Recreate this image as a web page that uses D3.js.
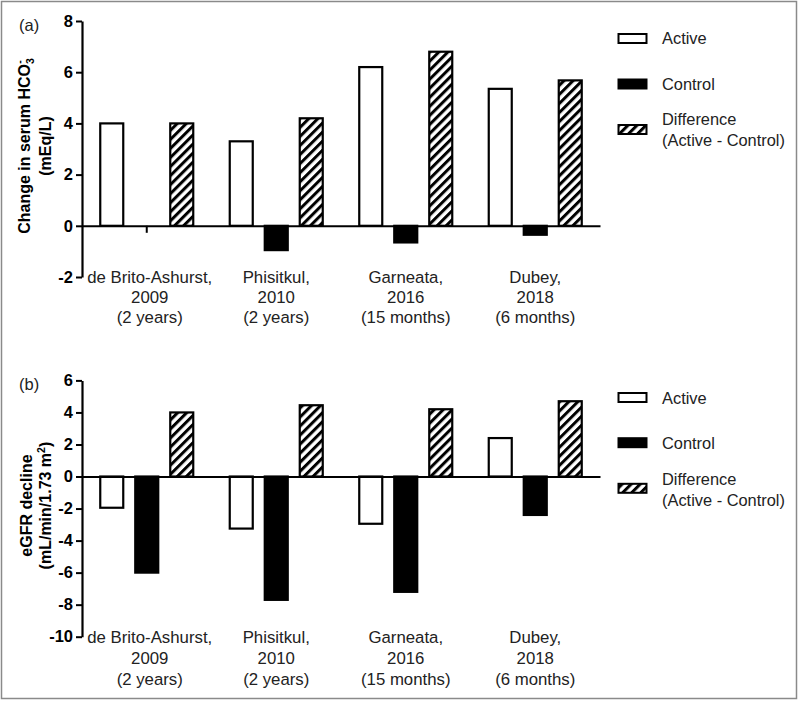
<!DOCTYPE html>
<html>
<head>
<meta charset="utf-8">
<script src="https://cdn.jsdelivr.net/npm/d3@7"></script>
<style>
  html, body { margin: 0; padding: 0; background: #fff; }
  svg { display: block; font-family: "Liberation Sans", Arial, sans-serif; }
</style>
</head>
<body>
<svg id="chart" width="800" height="702"></svg>
<script>
// ---- data ----
const categories = ["de Brito-Ashurst, 2009", "Phisitkul, 2010", "Garneata, 2016", "Dubey, 2018"];
const categoryLines = [
  ["de Brito-Ashurst,", "2009", "(2 years)"],
  ["Phisitkul,", "2010", "(2 years)"],
  ["Garneata,", "2016", "(15 months)"],
  ["Dubey,", "2018", "(6 months)"]
];
const seriesNames = ["Active", "Control", "Difference"];
const legendLabels = [["Active"], ["Control"], ["Difference", "(Active - Control)"]];

const hco3Active  = [4.0, 3.3, 6.2, 5.35];
const hco3Control = [0, -0.95, -0.65, -0.35];
const hco3Diff    = [4.0, 4.2, 6.8, 5.68];
const hco3Ticks   = [-2, 0, 2, 4, 6, 8];

const egfrActive  = [-1.95, -3.25, -2.95, 2.4];
const egfrControl = [-6.0, -7.7, -7.2, -2.4];
const egfrDiff    = [4.0, 4.45, 4.2, 4.7];
const egfrTicks   = [-10, -8, -6, -4, -2, 0, 2, 4, 6];

// ---- setup ----
const svg = d3.select("#chart");
svg.append("rect").attr("width", 800).attr("height", 702).attr("fill", "#fff");

const defs = svg.append("defs");
const pat = defs.append("pattern")
  .attr("id", "hatch").attr("patternUnits", "userSpaceOnUse")
  .attr("width", 6.4).attr("height", 40)
  .attr("patternTransform", "rotate(45)");
pat.append("rect").attr("width", 6.4).attr("height", 40).attr("fill", "#fff");
pat.append("rect").attr("x", 0).attr("width", 3).attr("height", 40).attr("fill", "#000");

const fills = { "Active": "#fff", "Control": "#000", "Difference": "url(#hatch)" };

// outer frame
svg.append("rect").attr("x", 1.5).attr("y", 1.5).attr("width", 795).attr("height", 697)
  .attr("fill", "none").attr("stroke", "#8a8a8a").attr("stroke-width", 1.5);

const x0 = d3.scaleBand().domain(categories).range([82, 600]).paddingInner(0).paddingOuter(0);
const bw = x0.bandwidth();
const x1 = d3.scaleBand().domain(seriesNames)
  .range([bw / 2 - 52.5, bw / 2 + 52.5])
  .paddingInner(10 / 35).paddingOuter(5 / 35);

const fmt = (d) => String(d); // hyphen-minus as in the original

function drawPanel(cfg) {
  const g = svg.append("g");
  const y = d3.scaleLinear().domain(cfg.domain).range(cfg.range);
  const values = { "Active": cfg.active, "Control": cfg.control, "Difference": cfg.diff };

  // bars
  seriesNames.forEach(s => {
    g.selectAll(null).data(categories).join("rect")
      .attr("x", (c) => x0(c) + x1(s) + 1)
      .attr("width", x1.bandwidth() - 2)
      .attr("y", (c, i) => Math.min(y(values[s][i]), y(0)))
      .attr("height", (c, i) => Math.abs(y(values[s][i]) - y(0)))
      .attr("fill", fills[s])
      .attr("stroke", "#000").attr("stroke-width", 2.2);
  });

  // x axis (zero line with category ticks)
  const xAxis = d3.axisBottom(x0).tickSize(7).tickSizeOuter(0).tickFormat("");
  const gx = g.append("g").attr("transform", `translate(0,${y(0)})`).call(xAxis);
  gx.select(".domain").attr("stroke-width", 2);
  gx.selectAll(".tick line").attr("stroke-width", 2);

  // y axis
  const yAxis = d3.axisLeft(y).tickValues(cfg.ticks).tickSize(6).tickSizeOuter(0).tickPadding(3)
    .tickFormat(fmt);
  const gy = g.append("g").attr("transform", "translate(82,0)").call(yAxis);
  gy.select(".domain").attr("stroke-width", 2.2);
  gy.selectAll(".tick line").attr("stroke-width", 2);
  gy.selectAll(".tick text").attr("font-size", 16.5).attr("font-weight", "bold")
    .attr("font-family", "'Liberation Sans', Arial, sans-serif").attr("fill", "#000");

  // category labels
  categoryLines.forEach((lines, i) => {
    const cx = x0(categories[i]) + bw / 2 + (i === 0 ? 3 : 0);
    lines.forEach((t, j) => {
      g.append("text").attr("x", cx).attr("y", cfg.labelY + j * cfg.labelGap)
        .attr("text-anchor", "middle").attr("font-size", 16.8).attr("fill", "#222").text(t);
    });
  });

  // panel letter
  g.append("text").attr("x", 19).attr("y", cfg.letterY).attr("font-size", 16.5).attr("fill", "#222").text(cfg.letter);

  // y title
  const midY = (cfg.range[0] + cfg.range[1]) / 2 - 3;
  const t1 = g.append("text").attr("transform", `translate(${cfg.title1X},${midY}) rotate(-90)`)
    .attr("text-anchor", "middle").attr("font-size", 16).attr("font-weight", "bold").attr("fill", "#000");
  cfg.title1(t1);
  const t2 = g.append("text").attr("transform", `translate(${cfg.title2X},${midY}) rotate(-90)`)
    .attr("text-anchor", "middle").attr("font-size", 16).attr("font-weight", "bold").attr("fill", "#000");
  cfg.title2(t2);

  // legend
  const lg = g.append("g");
  cfg.legendY.forEach((ly, i) => {
    const s = seriesNames[i];
    lg.append("rect").attr("x", 618.5).attr("y", ly.box - 4.5).attr("width", 28).attr("height", 9)
      .attr("fill", fills[s]).attr("stroke", "#000").attr("stroke-width", 2);
    legendLabels[i].forEach((t, j) => {
      lg.append("text").attr("x", 662).attr("y", ly.text[j] + 5.8)
        .attr("font-size", 16.4).attr("fill", "#222").text(t);
    });
  });
}

drawPanel({
  domain: [-2, 8], range: [277, 21], ticks: hco3Ticks,
  active: hco3Active, control: hco3Control, diff: hco3Diff,
  labelY: 283, labelGap: 20,
  letter: "(a)", letterY: 31,
  title1X: 29.5, title2X: 50.5,
  title1: (t) => {
    t.append("tspan").text("Change in serum HCO");
    t.append("tspan").attr("font-size", 10.5).attr("dy", 4).text("3");
    t.append("tspan").attr("font-size", 10.5).attr("dx", -5.5).attr("dy", -11).text("-");
  },
  title2: (t) => { t.text("(mEq/L)"); },
  legendY: [
    { box: 38.5, text: [38.5] },
    { box: 84, text: [84] },
    { box: 129.5, text: [119.3, 140] }
  ]
});

drawPanel({
  domain: [-10, 6], range: [636.7, 380.4], ticks: egfrTicks,
  active: egfrActive, control: egfrControl, diff: egfrDiff,
  labelY: 642.5, labelGap: 21,
  letter: "(b)", letterY: 390,
  title1X: 31.5, title2X: 51,
  title1: (t) => { t.text("eGFR decline"); },
  title2: (t) => {
    t.append("tspan").text("(mL/min/1.73 m");
    t.append("tspan").attr("font-size", 10.5).attr("dy", -6).text("2");
    t.append("tspan").attr("dy", 6).text(")");
  },
  legendY: [
    { box: 397.5, text: [398] },
    { box: 442.7, text: [443] },
    { box: 488.3, text: [479.3, 500] }
  ]
});
</script>
</body>
</html>
